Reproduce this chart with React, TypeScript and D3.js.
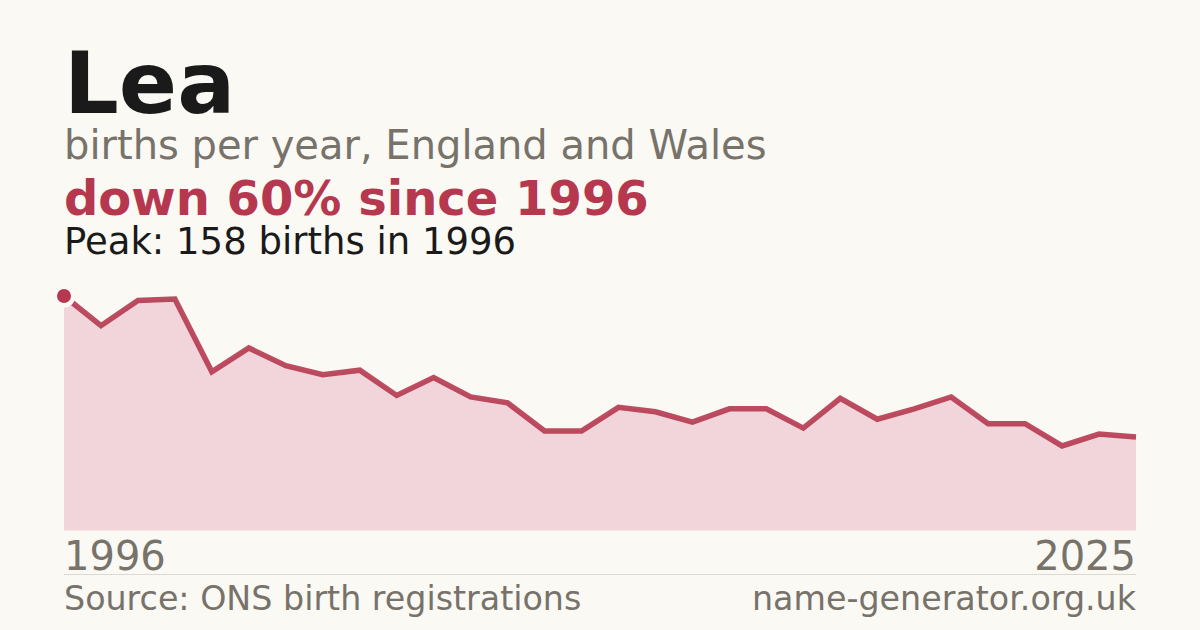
import * as d3 from 'd3';
import * as React from 'react';

const W = 1200;
const H = 630;

const years = d3.range(1996, 2026);
const births = [
  158, 138, 155, 156, 107, 123, 111, 105, 108, 91,
  103, 90, 86, 67, 67, 83, 80, 73, 82, 82,
  69, 89, 75, 82, 90, 72, 72, 57, 65, 63,
];

const title = 'Lea';
const subtitle = 'births per year, England and Wales';
const headline = 'down 60% since 1996';
const peakNote = 'Peak: 158 births in 1996';
const source = 'Source: ONS birth registrations';
const site = 'name-generator.org.uk';

const bg = '#faf9f4';
const accent = '#b5384f';
const grey = '#77726a';
const font = '"DejaVu Sans", sans-serif';

export default function App() {
  const x = d3.scaleLinear().domain([1996, 2025]).range([64, 1136]);
  const y = d3.scaleLinear().domain([0, d3.max(births) as number]).range([530.5, 296]);

  const pts = years.map((yr, i) => [yr, births[i]] as [number, number]);

  const area = d3
    .area<[number, number]>()
    .x(d => x(d[0]))
    .y0(y(0))
    .y1(d => y(d[1]));

  const line = d3
    .line<[number, number]>()
    .x(d => x(d[0]))
    .y(d => y(d[1]));

  const peakIdx = births.indexOf(d3.max(births) as number);

  return (
    <svg
      width={W}
      height={H}
      viewBox={`0 0 ${W} ${H}`}
      style={{ position: 'absolute', left: 0, top: 0, display: 'block' }}
    >
      <rect width={W} height={H} fill={bg} />
      <g fontFamily={font}>
        <text x={64} y={113} fontSize={86} fontWeight="bold" fill="#1a1a1a">
          {title}
        </text>
        <text x={64} y={159} fontSize={40} fill={grey}>
          {subtitle}
        </text>
        <text x={64} y={215} fontSize={48} fontWeight="bold" fill={accent}>
          {headline}
        </text>
        <text x={64} y={254} fontSize={37} fill="#1a1a1a">
          {peakNote}
        </text>
      </g>

      <path d={area(pts) ?? ''} fill="#f1d5da" />
      <path
        d={line(pts) ?? ''}
        fill="none"
        stroke={accent}
        strokeWidth={5.5}
        strokeLinejoin="miter"
        strokeOpacity={0.9}
      />
      <circle
        cx={x(years[peakIdx])}
        cy={y(births[peakIdx])}
        r={7}
        fill={accent}
        stroke={bg}
        strokeWidth={9}
        paintOrder="stroke"
      />

      <g fontFamily={font} fill={grey}>
        <text x={64} y={570} fontSize={40}>
          {years[0]}
        </text>
        <text x={1136} y={570} fontSize={40} textAnchor="end">
          {years[years.length - 1]}
        </text>
        <line x1={64} x2={1136} y1={574.5} y2={574.5} stroke="#dcd9d2" strokeWidth={1} />
        <text x={64} y={610} fontSize={33.3}>
          {source}
        </text>
        <text x={1136} y={610} fontSize={33.3} textAnchor="end">
          {site}
        </text>
      </g>
    </svg>
  );
}
